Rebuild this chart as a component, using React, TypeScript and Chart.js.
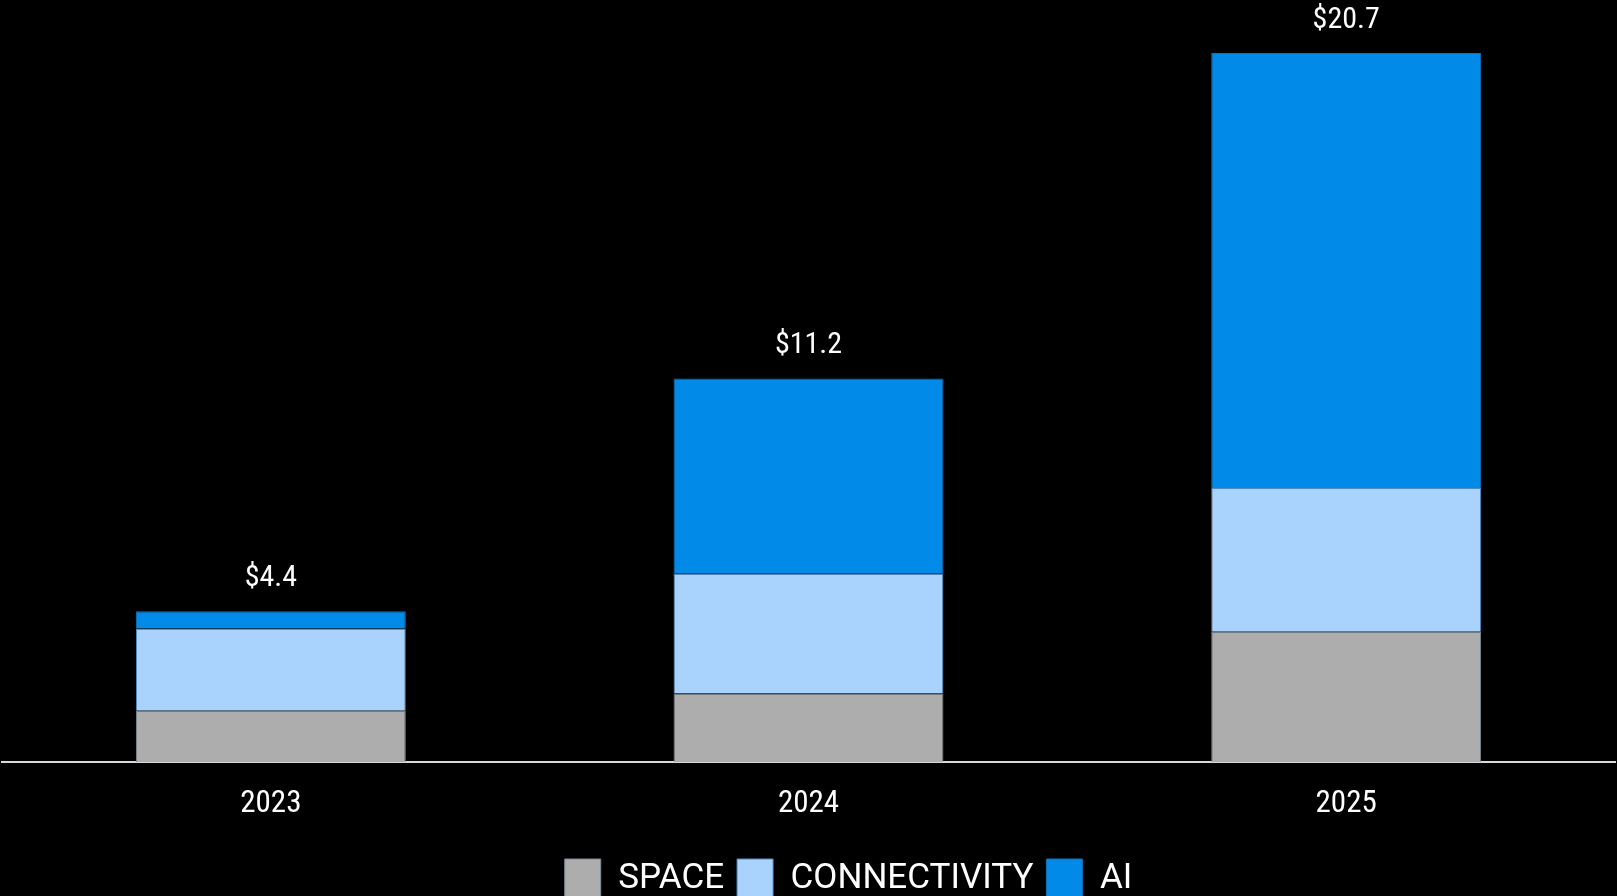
import React, { useEffect, useRef } from "react";
import { Chart, registerables } from "chart.js";

Chart.register(...registerables);

const categories = ["2023", "2024", "2025"];
const spaceValues = [1.5, 2.0, 3.8];
const connectivityValues = [2.4, 3.5, 4.2];
const aiValues = [0.5, 5.7, 12.7];
const seriesNames = ["SPACE", "CONNECTIVITY", "AI"];

const COND_FONT = '"Roboto Condensed", "Liberation Sans Narrow", "DejaVu Sans Condensed", sans-serif';
const LEGEND_FONT = 'Roboto, "Liberation Sans", sans-serif';

const totalLabels = {
  id: "totalLabels",
  afterDatasetsDraw(chart: any) {
    const ctx = chart.ctx;
    const n = chart.data.labels.length;
    ctx.save();
    ctx.font = `30px ${COND_FONT}`;
    ctx.fillStyle = "#ffffff";
    ctx.textAlign = "center";
    ctx.textBaseline = "middle";
    for (let i = 0; i < n; i++) {
      let total = 0;
      chart.data.datasets.forEach((ds: any) => (total += ds.data[i]));
      const last = chart.getDatasetMeta(chart.data.datasets.length - 1).data[i];
      if (!last) continue;
      ctx.fillText("$" + total.toFixed(1), last.x, last.y - 33);
    }
    ctx.restore();
  },
};

const legendShift = {
  id: "legendShift",
  afterLayout(chart: any) {
    if (chart.legend) {
      chart.legend.left += 40;
      chart.legend.right += 40;
    }
  },
};

export default function App() {
  const ref = useRef<HTMLCanvasElement>(null);
  useEffect(() => {
    document.body.style.margin = "0";
    document.body.style.background = "#000";
    document.body.style.overflow = "hidden";
    const chart = new Chart(ref.current!, {
      type: "bar",
      data: {
        labels: categories,
        datasets: [
          {
            label: seriesNames[0],
            data: spaceValues,
            backgroundColor: "#ADADAD",
            borderColor: "#7f8a96",
            borderWidth: 1,
          },
          {
            label: seriesNames[1],
            data: connectivityValues,
            backgroundColor: "#A9D3FD",
            borderColor: "#4f8bc6",
            borderWidth: 1,
          },
          {
            label: seriesNames[2],
            data: aiValues,
            backgroundColor: "#018AE7",
            borderColor: "#0a72bf",
            borderWidth: 1,
          },
        ],
      },
      options: {
        animation: false,
        responsive: true,
        maintainAspectRatio: false,
        layout: { padding: { left: 2, right: 2, top: 0, bottom: 0 } },
        datasets: { bar: { barPercentage: 1, categoryPercentage: 0.502 } },
        plugins: {
          legend: {
            position: "bottom",
            labels: {
              color: "#ffffff",
              boxWidth: 36,
              boxHeight: 40,
              padding: 13,
              font: { size: 35, family: LEGEND_FONT },
            },
          },
          tooltip: { enabled: false },
        },
        scales: {
          x: {
            stacked: true,
            grid: { display: false, drawTicks: false },
            border: { display: true, color: "#d9d9d9", width: 2 },
            ticks: { color: "#ffffff", padding: 26.5, font: { size: 31, family: COND_FONT, lineHeight: 1.0 } },
          },
          y: {
            stacked: true,
            display: false,
            min: 0,
            max: 22.25,
          },
        },
      },
      plugins: [totalLabels, legendShift],
    });
    return () => chart.destroy();
  }, []);
  return (
    <div style={{ position: "relative", width: "1617px", height: "909px", background: "#000" }}>
      <canvas ref={ref} />
    </div>
  );
}
